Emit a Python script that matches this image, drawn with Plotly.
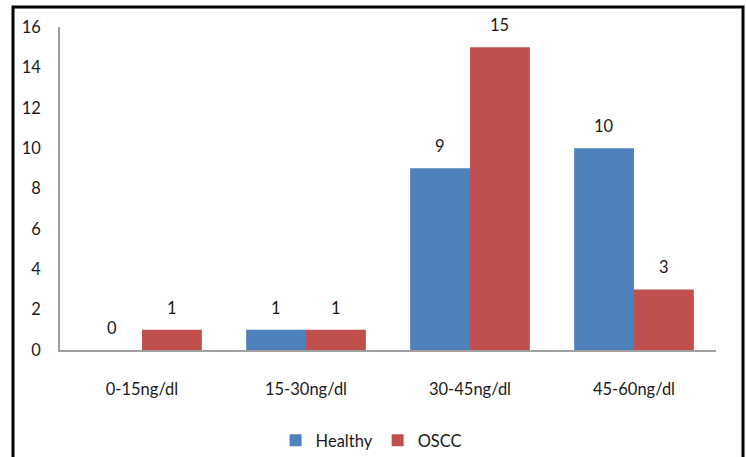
import plotly.graph_objects as go

# Serum level bins and number of subjects in each group
categories = ["0-15ng/dl", "15-30ng/dl", "30-45ng/dl", "45-60ng/dl"]
healthy = [0, 1, 9, 10]
oscc = [1, 1, 15, 3]
y_ticks = [0, 2, 4, 6, 8, 10, 12, 14, 16]

BLUE = "#4F81BD"
RED = "#C0504D"
FONT = "Lato"
TXT = "#1a1a1a"
FS = 16.5

W, H = 746, 457
L, R, T, B = 60, 30, 27, 107

fig = go.Figure()
fig.add_trace(go.Bar(name="Healthy", x=categories, y=healthy, marker_color=BLUE,
                     marker_line_width=0))
fig.add_trace(go.Bar(name="OSCC", x=categories, y=oscc, marker_color=RED,
                     marker_line_width=0))

# value labels above each bar (half-bar shift to the left / right)
plot_w = W - L - R
bar_w = plot_w / len(categories) * (1 - 0.27) / 2
for series, sign in ((healthy, -1), (oscc, 1)):
    for cat, val in zip(categories, series):
        fig.add_annotation(x=cat, y=val, text=str(val), showarrow=False,
                           xshift=sign * bar_w / 2, yshift=22, yanchor="middle",
                           font=dict(family=FONT, size=FS, color=TXT))

# outer frame around the chart
x0 = (13 - L) / plot_w
x1 = (743 - L) / plot_w
ph = H - T - B
y1 = (H - B - 7) / ph
fig.add_shape(type="path", xref="paper", yref="paper",
              path=f"M {x0} -0.6 L {x0} {y1} L {x1} {y1} L {x1} -0.6",
              line=dict(color="black", width=3))

fig.update_layout(
    width=W, height=H,
    margin=dict(l=L, r=R, t=T, b=B, autoexpand=False),
    paper_bgcolor="white", plot_bgcolor="white",
    barmode="group", bargap=0.27, bargroupgap=0,
    font=dict(family=FONT, size=FS, color=TXT),
    showlegend=True,
    legend=dict(orientation="h", x=0.475, xanchor="center", y=-0.28, yanchor="middle",
                font=dict(family=FONT, size=FS, color=TXT),
                itemwidth=30, traceorder="normal"),
)
fig.update_xaxes(showline=True, linecolor="#a0a0a0", linewidth=2, ticks="",
                 showgrid=False, ticklabelstandoff=23, automargin=False,
                 tickfont=dict(family=FONT, size=FS, color=TXT))
fig.update_yaxes(range=[0, 16], tickvals=y_ticks, showline=True, linecolor="#a0a0a0",
                 linewidth=1.5, showgrid=False, zeroline=False, ticks="",
                 ticklabelstandoff=14, automargin=False,
                 tickfont=dict(family=FONT, size=FS, color=TXT))

fig.write_html("out.html")
